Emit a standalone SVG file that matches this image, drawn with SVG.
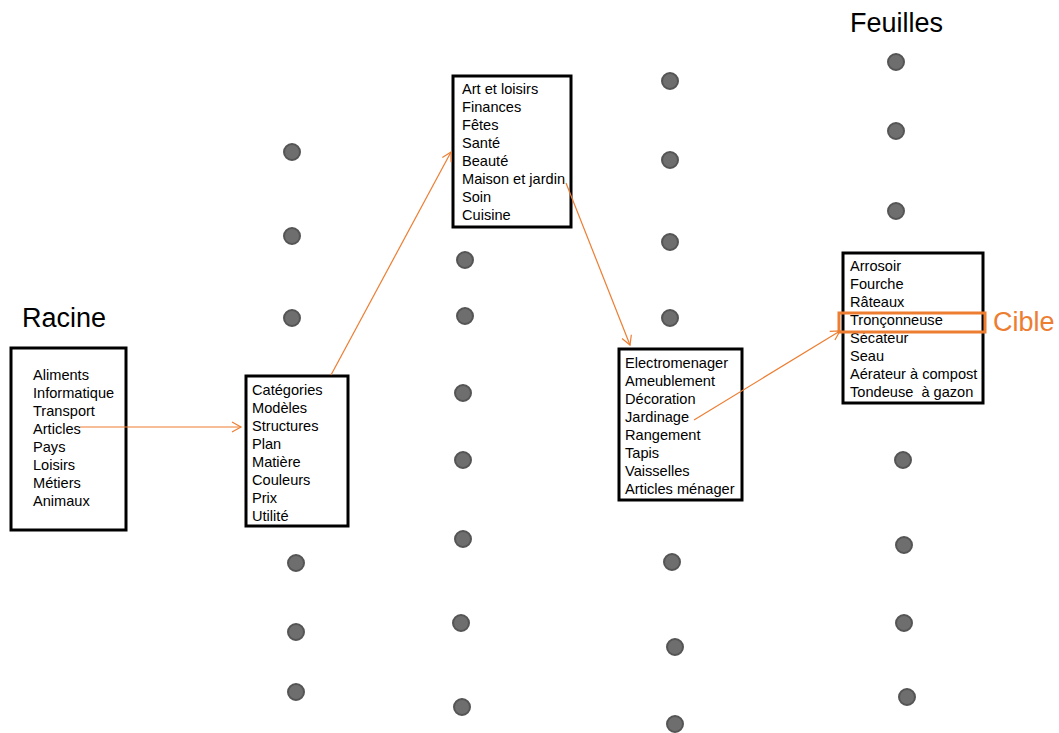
<svg xmlns="http://www.w3.org/2000/svg" width="1059" height="733" viewBox="0 0 1059 733">
<defs>
<style>
.box{fill:#fff;stroke:#000;stroke-width:3}
.t{font-family:"Liberation Sans",Arial,sans-serif;font-size:14.6px;fill:#000}
.h{font-family:"Liberation Sans",Arial,sans-serif;font-size:27px;fill:#000}
.dot{fill:#6e6e6e;stroke:#555;stroke-width:2}
.conn{stroke:#ed7d31;stroke-width:1.2;fill:none;marker-end:url(#arr)}
</style>
<marker id="arr" markerWidth="12" markerHeight="12" refX="10" refY="6" orient="auto" markerUnits="userSpaceOnUse">
<path d="M1,1 L10,6 L1,11" fill="none" stroke="#ed7d31" stroke-width="1.2"/>
</marker>
</defs>
<rect width="1059" height="733" fill="#fff"/>
<g id="dots">
<circle class="dot" cx="292" cy="152" r="8"/>
<circle class="dot" cx="292" cy="236" r="8"/>
<circle class="dot" cx="292" cy="318" r="8"/>
<circle class="dot" cx="296" cy="563" r="8"/>
<circle class="dot" cx="296" cy="632" r="8"/>
<circle class="dot" cx="296" cy="692" r="8"/>
<circle class="dot" cx="465" cy="260" r="8"/>
<circle class="dot" cx="465" cy="316" r="8"/>
<circle class="dot" cx="463" cy="393" r="8"/>
<circle class="dot" cx="463" cy="460" r="8"/>
<circle class="dot" cx="463" cy="539" r="8"/>
<circle class="dot" cx="461" cy="623" r="8"/>
<circle class="dot" cx="462" cy="707" r="8"/>
<circle class="dot" cx="670" cy="81" r="8"/>
<circle class="dot" cx="670" cy="160" r="8"/>
<circle class="dot" cx="670" cy="242" r="8"/>
<circle class="dot" cx="670" cy="318" r="8"/>
<circle class="dot" cx="672" cy="562" r="8"/>
<circle class="dot" cx="675" cy="647" r="8"/>
<circle class="dot" cx="675" cy="724" r="8"/>
<circle class="dot" cx="896" cy="62" r="8"/>
<circle class="dot" cx="896" cy="131" r="8"/>
<circle class="dot" cx="896" cy="211" r="8"/>
<circle class="dot" cx="903" cy="460" r="8"/>
<circle class="dot" cx="904" cy="545" r="8"/>
<circle class="dot" cx="904" cy="623" r="8"/>
<circle class="dot" cx="907" cy="697" r="8"/>
</g>
<text class="h" x="22" y="327">Racine</text>
<text class="h" x="850" y="32">Feuilles</text>
<g id="racine">
<rect class="box" x="11" y="348" width="115" height="182"/>
<text class="t" x="33" y="380">Aliments</text>
<text class="t" x="33" y="398">Informatique</text>
<text class="t" x="33" y="416">Transport</text>
<text class="t" x="33" y="434">Articles</text>
<text class="t" x="33" y="452">Pays</text>
<text class="t" x="33" y="470">Loisirs</text>
<text class="t" x="33" y="488">Métiers</text>
<text class="t" x="33" y="506">Animaux</text>
</g>
<g id="niveau1">
<rect class="box" x="246" y="376" width="102" height="150"/>
<text class="t" x="252" y="395">Catégories</text>
<text class="t" x="252" y="413">Modèles</text>
<text class="t" x="252" y="431">Structures</text>
<text class="t" x="252" y="449">Plan</text>
<text class="t" x="252" y="467">Matière</text>
<text class="t" x="252" y="485">Couleurs</text>
<text class="t" x="252" y="503">Prix</text>
<text class="t" x="252" y="521">Utilité</text>
</g>
<g id="niveau2">
<rect class="box" x="453" y="76" width="118" height="151"/>
<text class="t" x="462" y="94">Art et loisirs</text>
<text class="t" x="462" y="112">Finances</text>
<text class="t" x="462" y="130">Fêtes</text>
<text class="t" x="462" y="148">Santé</text>
<text class="t" x="462" y="166">Beauté</text>
<text class="t" x="462" y="184">Maison et jardin</text>
<text class="t" x="462" y="202">Soin</text>
<text class="t" x="462" y="220">Cuisine</text>
</g>
<g id="niveau3">
<rect class="box" x="619" y="349" width="123" height="151"/>
<text class="t" x="625" y="368">Electromenager</text>
<text class="t" x="625" y="386">Ameublement</text>
<text class="t" x="625" y="404">Décoration</text>
<text class="t" x="625" y="422">Jardinage</text>
<text class="t" x="625" y="440">Rangement</text>
<text class="t" x="625" y="458">Tapis</text>
<text class="t" x="625" y="476">Vaisselles</text>
<text class="t" x="625" y="494">Articles ménager</text>
</g>
<g id="feuilles">
<rect class="box" x="843" y="253" width="140" height="150"/>
<text class="t" x="850" y="271">Arrosoir</text>
<text class="t" x="850" y="289">Fourche</text>
<text class="t" x="850" y="307">Râteaux</text>
<text class="t" x="850" y="325">Tronçonneuse</text>
<text class="t" x="850" y="343">Sécateur</text>
<text class="t" x="850" y="361">Seau</text>
<text class="t" x="850" y="379">Aérateur à compost</text>
<text class="t" x="850" y="397">Tondeuse&#160; à gazon</text>
</g>
<g id="cible">
<rect x="839" y="313" width="146" height="19" fill="none" stroke="#ed7d31" stroke-width="3"/>
<text x="993" y="331" font-family="Liberation Sans, Arial, sans-serif" font-size="27" fill="#ed7d31">Cible</text>
</g>
<g id="connectors">
<line class="conn" x1="80" y1="427" x2="241" y2="427"/>
<line class="conn" x1="331" y1="375" x2="451" y2="152"/>
<line class="conn" x1="566" y1="183" x2="630" y2="345"/>
<line class="conn" x1="694" y1="420" x2="840" y2="331"/>
</g>
</svg>
